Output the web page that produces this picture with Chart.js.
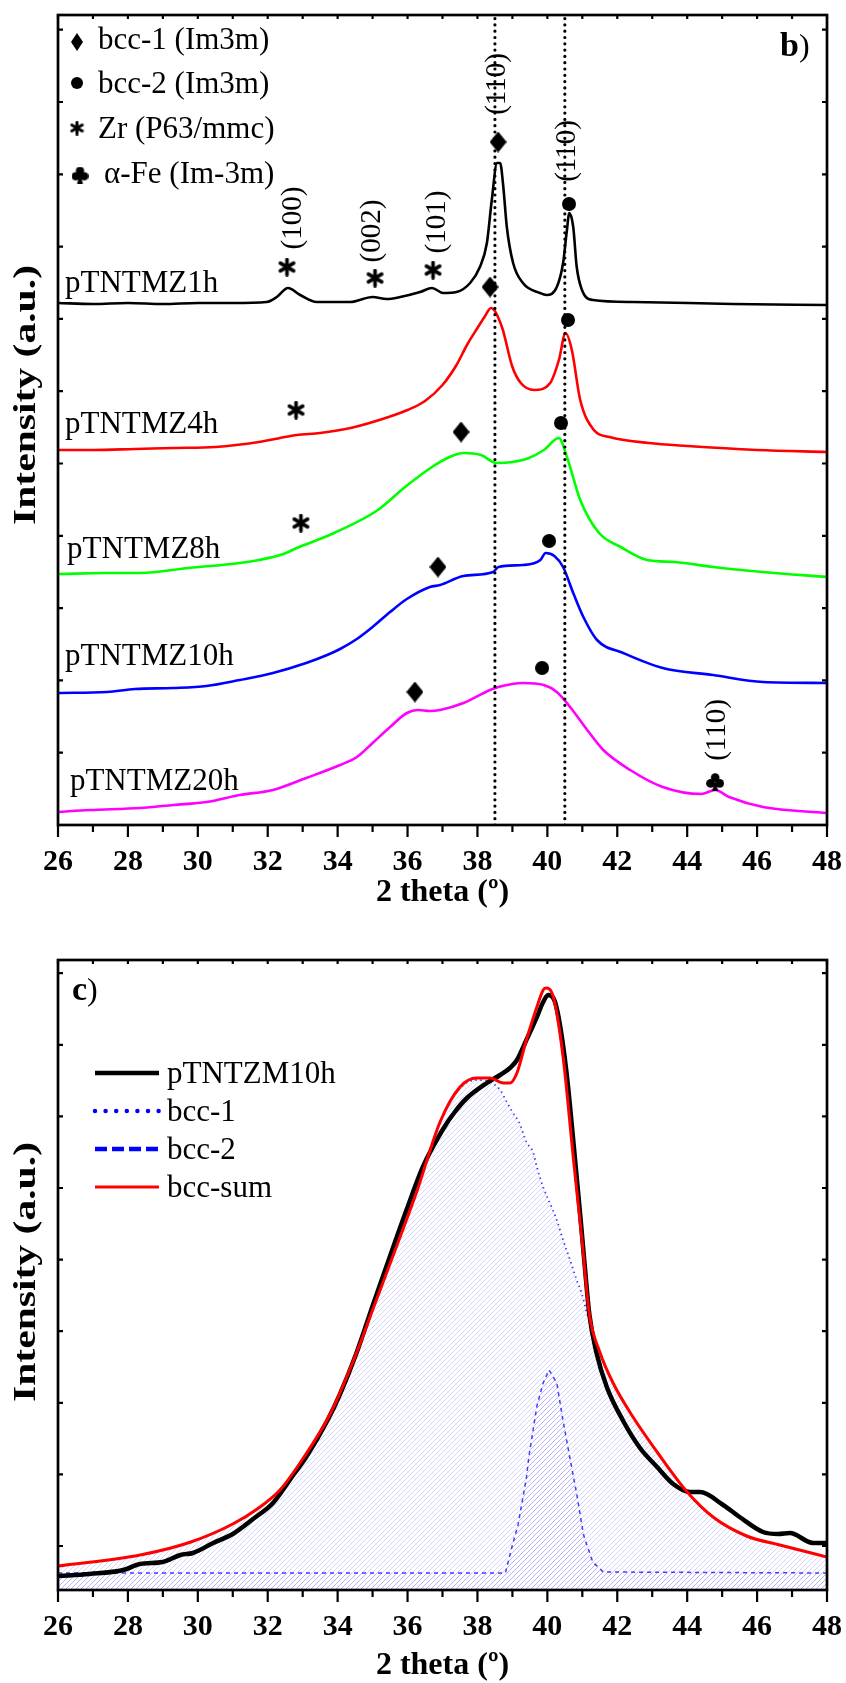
<!DOCTYPE html>
<html>
<head>
<meta charset="utf-8">
<script src="https://cdn.jsdelivr.net/npm/chart.js@4.4.1/dist/chart.umd.min.js"></script>
<style>
  html, body { margin: 0; padding: 0; background: #fff; }
  canvas { display: block; }
</style>
</head>
<body>
<canvas id="chartB" width="846" height="930"></canvas>
<canvas id="chartC" width="846" height="753"></canvas>
<script>
// XRD patterns of milled pTNTMZ powders (panel b) and peak fit of the 10h pattern (panel c)

// x axis (2 theta, degrees)
const xTickLabels = [26, 28, 30, 32, 34, 36, 38, 40, 42, 44, 46, 48];

// panel b: stacked patterns, [2theta, intensity a.u. incl. offset]
const sampleNames = ['pTNTMZ1h', 'pTNTMZ4h', 'pTNTMZ8h', 'pTNTMZ10h', 'pTNTMZ20h'];
const sampleColors = ['#000000', '#ff0000', '#00ff00', '#0000ff', '#ff00ff'];

const xrd1h = [[26,522],[27,521],[28,522],[29,521],[30,522],[31,522],[31.97,523],[32.26,528],[32.58,537],[32.93,530],[33.4,523],[34.36,523],[35.0,528],[35.4,526],[35.79,528],[36.36,533],[36.7,537],[37.02,532],[37.4,533],[37.79,542],[38.07,558],[38.27,582],[38.41,625],[38.56,662],[38.65,662],[38.74,638],[38.84,598],[39.02,562],[39.3,542],[39.79,532],[39.98,530],[40.27,538],[40.45,562],[40.55,592],[40.63,612],[40.74,598],[40.84,558],[40.99,535],[41.3,525],[42.45,523],[45.3,521],[48,520]];
const xrd4h = [[26,375],[27,375],[28.2,376],[29.3,377],[30.5,378],[31.75,383],[32.5,388],[32.83,390],[33.5,392],[34.37,397],[35.46,408],[36.0,415],[36.5,424],[37.0,440],[37.4,460],[37.7,480],[38.0,497],[38.2,508],[38.39,517],[38.7,498],[39.0,458],[39.24,442],[39.62,435],[40.08,442],[40.33,465],[40.52,492],[40.7,475],[40.94,425],[41.33,395],[41.78,388],[42.9,382],[44,379],[46,375],[48,373]];
const xrd8h = [[26,251],[27.4,252],[28.35,252],[29.74,257],[31.2,262],[31.75,265],[32.45,271],[32.83,277],[33.9,292],[35.15,315],[35.93,338],[36.7,358],[37.2,368],[37.6,372],[38.1,370],[38.55,362],[39.0,363],[39.47,367],[39.9,375],[40.33,387],[40.56,368],[40.94,325],[41.48,292],[42.1,278],[42.85,265],[43.65,263],[44.74,258],[46.17,253],[48,248]];
const xrd10h = [[26,132],[27.4,133],[28.2,136],[29.3,137],[30.25,139],[31.2,145],[32.15,152],[33.1,162],[33.7,170],[34.07,176],[34.55,186],[35.0,198],[35.5,213],[35.98,226],[36.64,238],[36.93,240],[37.6,249],[38.45,253],[38.6,258],[39.3,260],[39.8,265],[39.95,272],[40.2,269],[40.45,258],[40.74,232],[41.03,208],[41.42,185],[42.17,172],[43.3,157],[44.74,150],[46.17,143],[48,142]];
const xrd20h = [[26,13],[26.9,15],[28.35,17],[29.3,20],[30.25,23],[31.2,30],[32.15,35],[33.1,47],[34.07,60],[34.55,68],[35.0,82],[35.5,98],[35.98,112],[36.3,115],[36.64,114],[36.93,115],[37.6,122],[38.36,135],[38.6,138],[39.3,142],[39.9,140],[40.27,133],[40.65,118],[41.14,95],[41.6,75],[42.37,55],[43.3,38],[44.4,31],[44.8,35],[45.2,28],[46.17,18],[48,12]];
const xrdSeries = [xrd1h, xrd4h, xrd8h, xrd10h, xrd20h];

// reference lines (bcc-1 and bcc-2 (110) of 1h)
const refLines = [38.5, 40.5];

// phase marks on panel b [2theta, intensity]
const diamondMarks = [[38.59,683],[38.36,538],[37.53,393],[36.87,258],[36.21,133]];
const circleMarks = [[40.62,621],[40.59,505],[40.39,402],[40.05,284],[39.85,157]];
const zrMarks = [[32.55,558],[35.07,547],[36.73,555],[32.81,415],[32.95,302]];
const feMarks = [[44.80,43]];
const hklLabels = [['(100)',32.72,607],['(002)',34.98,594],['(101)',36.84,603],['(110)',38.56,741],['(110)',40.56,674],['(110)',44.86,95]];
const sampleLabelAt = [[26.2,533],[26.2,392],[26.26,267],[26.2,160],[26.34,35]];
const phaseLegend = ['bcc-1 (Im3m)', 'bcc-2 (Im3m)', 'Zr (P63/mmc)', '\u03b1-Fe (Im-3m)'];

// panel c: measured 10h pattern and fitted bcc components
const measured10h = [[26,14],[26.9,16],[27.87,20],[28.35,26],[29.0,28],[29.5,35],[29.86,37],[30.44,47],[31.0,56],[31.58,71],[32.15,87],[32.73,115],[33.1,133],[33.7,169],[34.07,196],[34.55,238],[35.0,284],[35.5,334],[35.98,381],[36.45,424],[37.0,460],[37.35,478],[37.7,492],[38.27,507],[38.65,515],[38.93,522],[39.13,530],[39.4,550],[39.7,573],[39.88,588],[40.02,595],[40.17,592],[40.32,573],[40.55,517],[40.74,450],[40.94,375],[41.08,320],[41.2,276],[41.4,238],[41.7,203],[42.17,169],[42.65,142],[43.14,123],[43.6,106],[44.08,98],[44.37,98],[45.03,85],[45.5,73],[46.17,58],[46.6,56],[46.94,57],[47.6,47],[48,47]];
const bccSum = [[26,24],[28.35,35],[29.8,48],[31.0,66],[31.7,81],[32.35,100],[33.0,131],[33.8,177],[34.55,238],[35.0,280],[35.7,345],[36.27,399],[36.93,468],[37.5,503],[37.98,512],[38.36,512],[38.74,507],[38.93,507],[39.13,517],[39.4,550],[39.7,583],[39.88,600],[39.95,602],[40.17,593],[40.45,533],[40.74,433],[40.99,350],[41.2,276],[41.5,238],[41.88,207],[42.45,173],[43.14,138],[44.0,98],[44.74,73],[45.7,54],[46.65,45],[48,33]];
const bcc1 = [[26,24],[28.35,35],[29.8,48],[31.0,66],[31.7,81],[32.35,100],[33.0,131],[33.8,177],[34.55,238],[35.0,280],[35.7,345],[36.27,399],[36.93,468],[37.5,502],[37.98,510],[38.36,508],[38.65,500],[38.84,488],[39.0,478],[39.2,467],[39.4,448],[39.6,437],[39.7,423],[39.88,403],[40.12,383],[40.27,370],[40.45,350],[40.65,330],[40.84,310],[40.98,297],[41.14,276],[41.4,246],[41.6,228],[41.88,207],[42.45,173],[43.14,138],[44.0,98],[44.74,73],[45.7,54],[46.65,45],[48,33]];
const bcc2 = [[26,17],[38.8,17],[39.0,45],[39.16,65],[39.4,112],[39.47,133],[39.7,184],[39.88,207],[40.05,220],[40.27,207],[40.45,169],[40.65,131],[40.84,96],[40.94,75],[41.03,56],[41.1,48],[41.3,28],[41.6,18],[48,17]];
const fitLegend = ['pTNTZM10h', 'bcc-1', 'bcc-2', 'bcc-sum'];

// y tick values (no labels shown)
const yTicksB = [1,2,3,4,5,6,7,8,9,10,11].map(k => k * 72.3);
const yTicksC = [0,1,2,3,4,5,6,7,8].map(k => 44 + k * 71.6);

const SERIF = "'Liberation Serif', 'Times New Roman', serif";
Chart.defaults.font.family = SERIF;
Chart.defaults.color = '#000';

const pts = arr => arr.map(p => ({ x: p[0], y: p[1] }));

// marker images
function diamondImg(w, h) {
    const c = document.createElement('canvas');
    c.width = w; c.height = h;
    const g = c.getContext('2d');
    g.fillStyle = '#000';
    g.beginPath();
    g.moveTo(w / 2, 0); g.lineTo(w, h / 2); g.lineTo(w / 2, h); g.lineTo(0, h / 2);
    g.closePath(); g.fill();
    return c;
}
function dotImg(d) {
    const c = document.createElement('canvas');
    c.width = d; c.height = d;
    const g = c.getContext('2d');
    g.fillStyle = '#000';
    g.beginPath(); g.arc(d / 2, d / 2, d / 2, 0, Math.PI * 2); g.fill();
    return c;
}
function asteriskImg(size, lw) {
    const c = document.createElement('canvas');
    c.width = size; c.height = size;
    const g = c.getContext('2d');
    const r = size / 2 - lw / 2;
    g.strokeStyle = '#000'; g.lineWidth = lw; g.lineCap = 'round';
    g.translate(size / 2, size / 2);
    for (let k = 0; k < 3; k++) {
        const a = Math.PI / 2 + k * Math.PI / 3;
        g.beginPath();
        g.moveTo(-r * Math.cos(a), -r * Math.sin(a));
        g.lineTo(r * Math.cos(a), r * Math.sin(a));
        g.stroke();
    }
    return c;
}
function clubImg(size) {
    const c = document.createElement('canvas');
    c.width = size; c.height = size;
    const g = c.getContext('2d');
    g.scale(size / 17, size / 17);
    g.fillStyle = '#000';
    [[8.5, 4.3], [4.2, 9.8], [12.8, 9.8]].forEach(p => {
        g.beginPath(); g.arc(p[0], p[1], 4.1, 0, Math.PI * 2); g.fill();
    });
    g.beginPath(); g.moveTo(8.5, 7); g.lineTo(5.6, 17); g.lineTo(11.4, 17); g.closePath(); g.fill();
    return c;
}

const imgDiamond = diamondImg(17, 21);
const imgDot = dotImg(14);
const imgStar = asteriskImg(19, 3.6);
const imgClub = clubImg(18);

// frame + ticks (x ticks outward at bottom, others inward)
function drawFrame(chart, yTicks) {
    const { ctx, chartArea: a, scales: { x, y } } = chart;
    ctx.save();
    ctx.strokeStyle = '#000';
    ctx.lineWidth = 2.2;
    for (let t = 26; t <= 48; t++) {
        const px = x.getPixelForValue(t);
        ctx.beginPath();
        ctx.moveTo(px, a.bottom); ctx.lineTo(px, a.bottom + (t % 2 === 0 ? 12 : 7));
        ctx.moveTo(px, a.top); ctx.lineTo(px, a.top + 4);
        ctx.stroke();
    }
    yTicks.forEach(v => {
        const py = y.getPixelForValue(v);
        ctx.beginPath();
        ctx.moveTo(a.left, py); ctx.lineTo(a.left + 5, py);
        ctx.moveTo(a.right, py); ctx.lineTo(a.right - 5, py);
        ctx.stroke();
    });
    ctx.lineWidth = 2.7;
    ctx.strokeRect(a.left, a.top, a.right - a.left, a.bottom - a.top);
    ctx.restore();
}

function drawAxisTitles(chart, yCenter, xBaseline) {
    const { ctx, chartArea: a } = chart;
    ctx.save();
    ctx.fillStyle = '#000';
    ctx.font = 'bold 32px ' + SERIF;
    ctx.textAlign = 'center';
    ctx.textBaseline = 'alphabetic';
    ctx.fillText('2 theta (\u00ba)', (a.left + a.right) / 2, xBaseline);
    ctx.translate(27, yCenter);
    ctx.rotate(-Math.PI / 2);
    ctx.scale(1.3, 1);
    ctx.textBaseline = 'middle';
    ctx.fillText('Intensity (a.u.)', 0, 0);
    ctx.restore();
}

function drawPanelTag(ctx, letter, x, baseline) {
    ctx.save();
    ctx.fillStyle = '#000';
    ctx.textBaseline = 'alphabetic';
    ctx.textAlign = 'left';
    ctx.font = 'bold 34px ' + SERIF;
    ctx.fillText(letter, x, baseline);
    const w = ctx.measureText(letter).width;
    ctx.font = '32px ' + SERIF;
    ctx.fillText(')', x + w, baseline);
    ctx.restore();
}

const decorB = {
    id: 'decorB',
    afterDraw(chart) {
        const { ctx, chartArea: a, scales: { x, y } } = chart;
        drawFrame(chart, yTicksB);
        drawAxisTitles(chart, 395, 901);
        drawPanelTag(ctx, 'b', 780, 56);

        ctx.save();
        ctx.fillStyle = '#000';
        ctx.font = '31px ' + SERIF;
        ctx.textAlign = 'left';
        ctx.textBaseline = 'alphabetic';
        // sample names
        sampleNames.forEach((n, i) => {
            ctx.fillText(n, x.getPixelForValue(sampleLabelAt[i][0]), y.getPixelForValue(sampleLabelAt[i][1]));
        });
        // phase legend
        const legendImgs = [diamondImg(12, 18), dotImg(12), asteriskImg(15, 3), clubImg(17)];
        const symX = [19, 19, 19, 22], symY = [27, 68, 113, 160];
        const txtX = [40, 40, 40, 46], txtY = [34, 78, 123, 168];
        phaseLegend.forEach((t, i) => {
            const im = legendImgs[i];
            ctx.drawImage(im, a.left + symX[i] - im.width / 2, a.top + symY[i] - im.height / 2);
            ctx.fillText(t, a.left + txtX[i], a.top + txtY[i]);
        });
        // hkl labels (rotated)
        ctx.font = '29px ' + SERIF;
        ctx.textAlign = 'center';
        ctx.textBaseline = 'middle';
        hklLabels.forEach(h => {
            ctx.save();
            ctx.translate(x.getPixelForValue(h[1]), y.getPixelForValue(h[2]));
            ctx.rotate(-Math.PI / 2);
            ctx.fillText(h[0], 0, 0);
            ctx.restore();
        });
        ctx.restore();
    }
};

const decorC = {
    id: 'decorC',
    afterDraw(chart) {
        const { ctx, chartArea: a } = chart;
        drawFrame(chart, yTicksC);
        drawAxisTitles(chart, 342, 744);
        drawPanelTag(ctx, 'c', 72, 70);

        // legend
        const styles = [
            { color: '#000', width: 4.5, dash: [], cap: 'butt' },
            { color: '#0000ff', width: 4.5, dash: [0, 10.6], cap: 'round' },
            { color: '#0000ff', width: 4.5, dash: [12, 5], cap: 'butt' },
            { color: '#ff0000', width: 3, dash: [], cap: 'butt' }
        ];
        const rows = [113, 151, 189, 227];
        ctx.save();
        ctx.font = '31px ' + SERIF;
        ctx.fillStyle = '#000';
        ctx.textAlign = 'left';
        ctx.textBaseline = 'alphabetic';
        fitLegend.forEach((t, i) => {
            const s = styles[i];
            const yy = a.top + rows[i];
            ctx.strokeStyle = s.color;
            ctx.lineWidth = s.width;
            ctx.lineCap = s.cap;
            ctx.setLineDash(s.dash);
            ctx.beginPath();
            ctx.moveTo(a.left + 37, yy); ctx.lineTo(a.left + 101, yy);
            ctx.stroke();
            ctx.setLineDash([]);
            ctx.fillText(t, a.left + 109, yy + 10);
        });
        ctx.restore();
    }
};

function xScale(axisHeight) {
    return {
        type: 'linear', min: 26, max: 48,
        grid: { display: false }, border: { display: false },
        ticks: {
            stepSize: 1, autoSkip: false, maxRotation: 0, padding: 11, color: '#000',
            font: { size: 30, weight: 'bold' },
            callback: v => xTickLabels.includes(v) ? String(v) : ''
        },
        afterFit: s => {
            s.height = axisHeight;
            s.paddingLeft = 0;
            s.paddingRight = 0;
        }
    };
}

// ---------- panel b ----------
const markerSet = (arr, img) => ({
    data: pts(arr), showLine: false, pointStyle: img, pointRadius: 8, borderWidth: 0
});

new Chart(document.getElementById('chartB'), {
    type: 'line',
    data: {
        datasets: [
            ...refLines.map(t => ({
                data: [{ x: t, y: 0 }, { x: t, y: 810 }],
                borderColor: '#000', borderWidth: 3.2, borderDash: [0, 6.3], borderCapStyle: 'round',
                pointRadius: 0
            })),
            markerSet(diamondMarks, imgDiamond),
            markerSet(circleMarks, imgDot),
            markerSet(zrMarks, imgStar),
            markerSet(feMarks, imgClub),
            ...xrdSeries.map((s, i) => ({
                label: sampleNames[i],
                data: pts(s),
                borderColor: sampleColors[i],
                borderWidth: 2.6,
                pointRadius: 0,
                cubicInterpolationMode: 'monotone',
                fill: false
            }))
        ]
    },
    options: {
        responsive: false,
        animation: false,
        layout: { padding: { left: 58, right: 19, top: 15, bottom: 0 } },
        plugins: { legend: { display: false }, tooltip: { enabled: false } },
        scales: {
            x: xScale(105),
            y: { type: 'linear', display: false, min: 0, max: 810 }
        }
    },
    plugins: [decorB]
});

// ---------- panel c ----------
const ctxC = document.getElementById('chartC').getContext('2d');
function hatch() {
    const c = document.createElement('canvas');
    c.width = 5; c.height = 5;
    const g = c.getContext('2d');
    g.strokeStyle = 'rgba(90, 90, 255, 0.26)';
    g.lineWidth = 1;
    g.beginPath();
    g.moveTo(0, 5); g.lineTo(5, 0);
    g.moveTo(-1, 1); g.lineTo(1, -1);
    g.moveTo(4, 6); g.lineTo(6, 4);
    g.stroke();
    return ctxC.createPattern(c, 'repeat');
}
const hatchFill = hatch();

new Chart(ctxC, {
    type: 'line',
    data: {
        datasets: [
            {
                label: 'bcc-sum', data: pts(bccSum), borderColor: '#ff0000', borderWidth: 3,
                pointRadius: 0, cubicInterpolationMode: 'monotone', fill: false
            },
            {
                label: 'pTNTZM10h', data: pts(measured10h), borderColor: '#000', borderWidth: 4.5,
                pointRadius: 0, cubicInterpolationMode: 'monotone', fill: false
            },
            {
                label: 'bcc-2', data: pts(bcc2), borderColor: 'rgba(0,0,255,0.75)', borderWidth: 1.5,
                borderDash: [4, 4], pointRadius: 0, tension: 0, fill: 'start', backgroundColor: hatchFill
            },
            {
                label: 'bcc-1', data: pts(bcc1), borderColor: 'rgba(0,0,255,0.75)', borderWidth: 1.8,
                borderDash: [1.5, 3.5], pointRadius: 0, cubicInterpolationMode: 'monotone',
                fill: 'start', backgroundColor: hatchFill
            }
        ]
    },
    options: {
        responsive: false,
        animation: false,
        layout: { padding: { left: 58, right: 19, top: 30, bottom: 0 } },
        plugins: { legend: { display: false }, tooltip: { enabled: false } },
        scales: {
            x: xScale(93),
            y: { type: 'linear', display: false, min: 0, max: 630 }
        }
    },
    plugins: [decorC]
});
</script>
</body>
</html>
